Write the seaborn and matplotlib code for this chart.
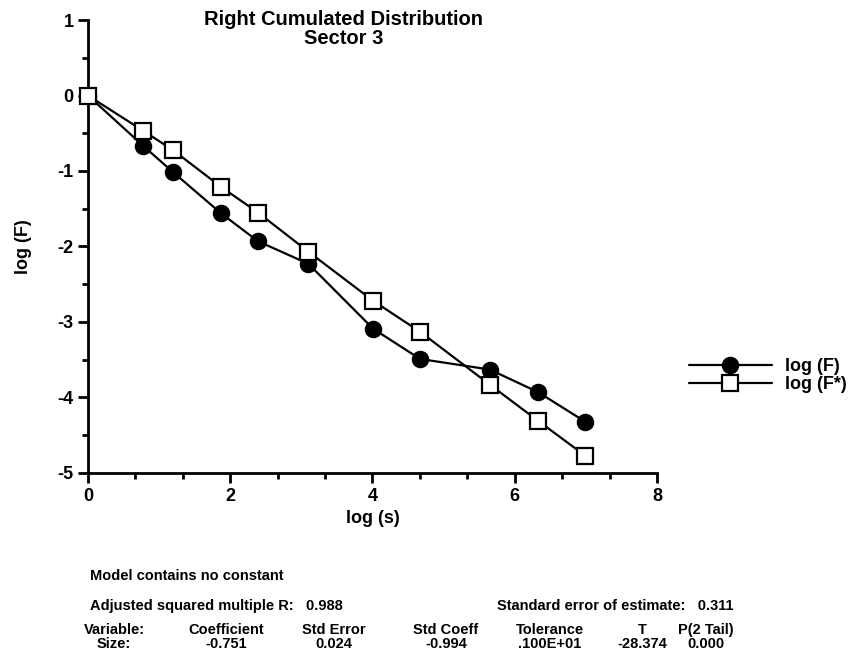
import matplotlib

matplotlib.use("Agg")
import matplotlib.pyplot as plt
import seaborn as sns
from matplotlib.lines import Line2D
from matplotlib.ticker import MultipleLocator

# values
log_s = [0.0, 0.78, 1.19, 1.87, 2.39, 3.10, 4.01, 4.67, 5.65, 6.33, 6.99]
log_f = [0.0, -0.67, -1.01, -1.56, -1.93, -2.23, -3.09, -3.49, -3.63, -3.93, -4.32]
log_f_star = [0.0, -0.47, -0.72, -1.21, -1.55, -2.07, -2.72, -3.13, -3.83, -4.31, -4.77]

series_labels = ["log (F)", "log (F*)"]
title_lines = ["Right Cumulated Distribution", "Sector 3"]

stats_header = ["Variable:", "Coefficient", "Std Error", "Std Coeff", "Tolerance", "T", "P(2 Tail)"]
stats_row = ["Size:", "-0.751", "0.024", "-0.994", ".100E+01", "-28.374", "0.000"]

sns.set_style("white")
plt.rcParams["font.family"] = ["Liberation Sans", "DejaVu Sans"]
plt.rcParams["axes.unicode_minus"] = False
plt.rcParams["text.color"] = "black"
plt.rcParams["axes.labelcolor"] = "black"

fig = plt.figure(figsize=(8.66, 6.56), dpi=100)
ax = fig.add_axes([0.1016, 0.279, 0.657, 0.6905])

line_kw = dict(color="black", lw=1.6, markersize=11, markeredgewidth=1.6,
               markeredgecolor="black")
sns.lineplot(x=log_s, y=log_f, ax=ax, marker="o", markerfacecolor="black",
             zorder=3, **line_kw)
sns.lineplot(x=log_s, y=log_f_star, ax=ax, marker="s", markerfacecolor="white",
             zorder=4, **line_kw)

ax.set_xlim(0, 8)
ax.set_ylim(-5, 1)
ax.xaxis.set_major_locator(MultipleLocator(2))
ax.xaxis.set_minor_locator(MultipleLocator(2 / 3))
ax.yaxis.set_major_locator(MultipleLocator(1))
ax.yaxis.set_minor_locator(MultipleLocator(0.5))
for side in ("top", "right"):
    ax.spines[side].set_visible(False)
for side in ("left", "bottom"):
    ax.spines[side].set_linewidth(2)
    ax.spines[side].set_color("black")
ax.tick_params(which="major", direction="out", length=7, width=2,
               labelsize=13, colors="black", left=True, bottom=True)
ax.tick_params(which="minor", direction="out", length=4, width=2,
               colors="black", left=True, bottom=True)
for lbl in ax.get_xticklabels() + ax.get_yticklabels():
    lbl.set_fontweight("bold")
for ln in ax.lines:
    ln.set_clip_on(False)

ax.set_xlabel("log (s)", fontsize=13, fontweight="bold", labelpad=4)
ax.set_ylabel("log (F)", fontsize=13, fontweight="bold", labelpad=18)

fig.text(0.397, 0.985, "\n".join(title_lines), ha="center", va="top",
         fontsize=14.5, fontweight="bold", linespacing=1.0)

handles = [
    Line2D([], [], marker="o", markerfacecolor="black", **line_kw),
    Line2D([], [], marker="s", markerfacecolor="white", **line_kw),
]
fig.legend(handles, series_labels, loc="upper left",
           bbox_to_anchor=(0.785, 0.468), frameon=False,
           handlelength=4.6, handletextpad=0.7, labelspacing=0.05,
           borderpad=0, prop={"weight": "bold", "size": 13})

# regression summary under the plot
txt_kw = dict(fontsize=10.5, fontweight="bold")
fig.text(90 / 866, 1 - 576 / 656, "Model contains no constant", ha="left",
         va="center", **txt_kw)
fig.text(90 / 866, 1 - 606 / 656, "Adjusted squared multiple R:   0.988",
         ha="left", va="center", **txt_kw)
fig.text(497 / 866, 1 - 606 / 656, "Standard error of estimate:   0.311",
         ha="left", va="center", **txt_kw)

col_x = [114, 226, 334, 446, 550, 642, 706]
for cx, head, val in zip(col_x, stats_header, stats_row):
    fig.text(cx / 866, 1 - 630 / 656, head, ha="center", va="center", **txt_kw)
    fig.text(cx / 866, 1 - 644 / 656, val, ha="center", va="center", **txt_kw)

fig.savefig("out.png", dpi=100)
